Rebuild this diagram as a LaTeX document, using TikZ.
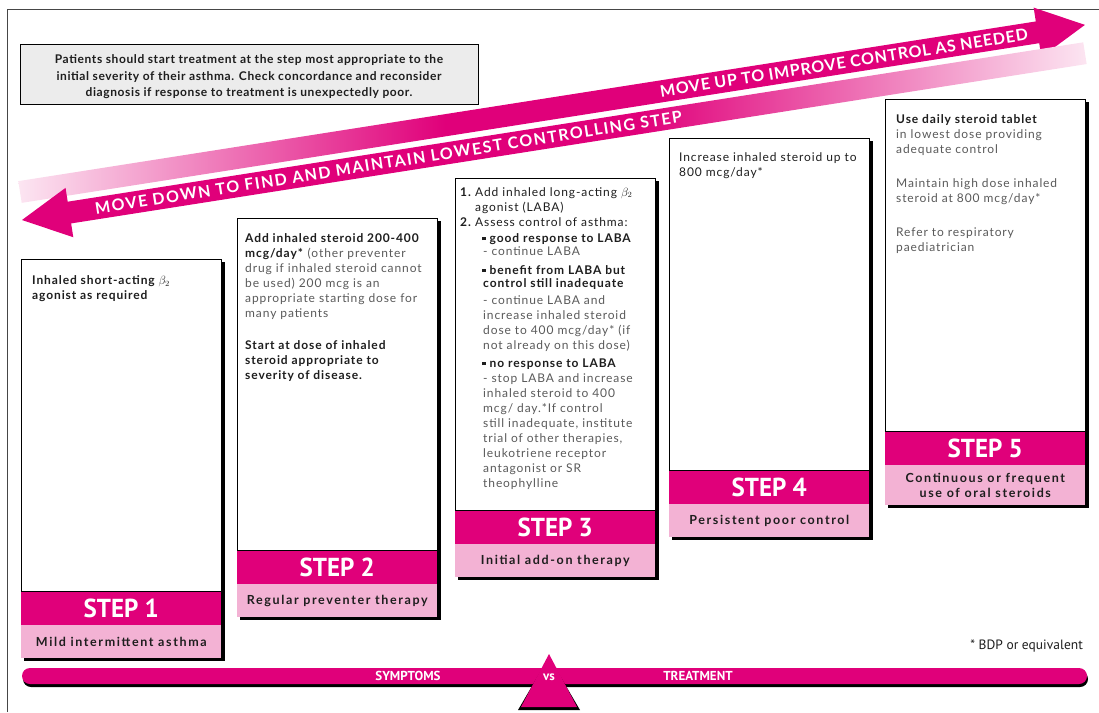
\documentclass[tikz,border=0pt]{standalone}
\usepackage{fontspec}
\setmainfont{Lato}[LetterSpace=7.5]
\newfontfamily\stepfont{PT Sans}[FakeStretch=0.96]
\newfontfamily\barfont{PT Sans}
\usepackage{tikz}
\usetikzlibrary{positioning, backgrounds}

\definecolor{stepmag}{RGB}{224,0,122}
\definecolor{steppink}{RGB}{243,178,212}
\definecolor{infogray}{RGB}{236,236,236}
\definecolor{textdark}{RGB}{30,30,30}
\definecolor{textgray}{RGB}{90,90,90}
\definecolor{framegray}{RGB}{70,70,70}
\colorlet{fadepink}{stepmag!10}

% fading bands of the two long arrows
\pgfdeclarehorizontalshading{upfade}{100bp}{color(0bp)=(fadepink); color(25bp)=(fadepink); color(45bp)=(stepmag); color(100bp)=(stepmag)}
\pgfdeclarehorizontalshading{downfade}{100bp}{color(0bp)=(stepmag); color(54bp)=(stepmag); color(75bp)=(fadepink); color(100bp)=(fadepink)}

\newcommand{\softtxt}[1]{\textcolor{textgray}{#1}}
\newcommand{\sqbullet}{\rule[2pt]{3.5pt}{3.5pt}\hspace{4pt}}

\tikzset{
  stepbody/.style={draw=black, line width=0.6pt, fill=white, minimum width=200pt,
    minimum height=332pt, inner sep=0pt, anchor=north west},
  stepband/.style={fill=stepmag, minimum width=200pt, minimum height=33pt, inner sep=0pt,
    text=white, font=\stepfont\bfseries\fontsize{26}{26}\selectfont},
  steplabel/.style={fill=steppink, minimum width=200pt, minimum height=33pt, inner sep=0pt,
    text=textdark, align=center,
    font=\bfseries\fontsize{12.5}{15}\selectfont\addfontfeature{LetterSpace=13}},
  steptext/.style={anchor=north west, inner sep=0pt, align=left, text=textdark,
    font=\fontsize{12}{15}\selectfont, execute at begin node=\strut},
  colshadow/.style={fill=black},
  bandtext/.style={text=white, inner sep=0pt, transform shape,
    font=\bfseries\fontsize{16}{16}\selectfont},
  bartext/.style={text=white, inner sep=0pt, font=\barfont\bfseries\fontsize{13}{13}\selectfont},
}

\begin{document}
\begin{tikzpicture}[x=1pt, y=-1pt]
  \useasboundingbox (0,0) rectangle (1099,712);
  \draw[framegray, line width=0.8pt] (7,712) -- (7,9) -- (1099,9);

  % note box
  \node[draw=black, line width=0.6pt, fill=infogray, minimum width=458pt, minimum height=60pt] (info) at (249,74) {};
  \node[align=center, text=textdark, inner sep=0pt,
        font=\bfseries\fontsize{12}{16.5}\selectfont\addfontfeature{LetterSpace=5}] (infotext)
    at ([shift={(0,3)}]info.center)
    {Patients should start treatment at the step most appropriate to the\\
     initial severity of their asthma. Check concordance and reconsider\\
     diagnosis if response to treatment is unexpectedly poor.};

  % long arrows
  \begin{scope}[shift={(20,192)}, rotate=8.92]
    \shade[shading=upfade] (0,-11) -- (1030,-11) -- (1030,-25) -- (1078,0) -- (1030,25)
      -- (1030,11) -- (0,11) -- cycle;
    \node[bandtext] (uptext) at (834,0) {\addfontfeature{LetterSpace=5}MOVE UP TO IMPROVE CONTROL AS NEEDED};
  \end{scope}
  \begin{scope}[shift={(22,220)}, rotate=8.92]
    \shade[shading=downfade] (0,0) -- (48,-25) -- (48,-11) -- (1076,-11) -- (1076,11)
      -- (48,11) -- (48,25) -- cycle;
    \node[bandtext] (downtext) at (371,0) {\addfontfeature{LetterSpace=9.5}MOVE DOWN TO FIND AND MAINTAIN LOWEST CONTROLLING STEP};
  \end{scope}

  % step 1
  \node[stepbody] (s1) at (21,259) {};
  \node[stepband, below=0pt of s1] (s1b) {STEP 1};
  \node[steplabel, below=0pt of s1b] (s1l) {Mild intermittent asthma};
  \node[steptext] (t1) at (32,275.5) {\textbf{Inhaled short-acting $\beta_2$}\\ \textbf{agonist as required}};

  % step 2
  \node[stepbody] (s2) at (237,218) {};
  \node[stepband, below=0pt of s2] (s2b) {STEP 2};
  \node[steplabel, below=0pt of s2b] (s2l) {Regular preventer therapy};
  \node[steptext] (t2) at (245,233.5) {\textbf{Add inhaled steroid 200-400}\\
    \textbf{mcg/day*} \softtxt{(other preventer}\\
    \softtxt{drug if inhaled steroid cannot}\\
    \softtxt{be used) 200 mcg is an}\\
    \softtxt{appropriate starting dose for}\\
    \softtxt{many patients}\\[17pt]
    \textbf{Start at dose of inhaled}\\
    \textbf{steroid appropriate to}\\
    \textbf{severity of disease.}};

  % step 3
  \node[stepbody] (s3) at (455,178) {};
  \node[stepband, below=0pt of s3] (s3b) {STEP 3};
  \node[steplabel, below=0pt of s3b] (s3l) {Initial add-on therapy};
  \node[steptext] (t3) at (460,187)
    {\makebox[15pt][l]{\textbf{1.}}Add inhaled long-acting $\beta_2$\\
     \hspace*{15pt}agonist (LABA)\\
     \makebox[15pt][l]{\textbf{2.}}Assess control of asthma:\\[1pt]
     \hspace*{22pt}\sqbullet\textbf{good response to LABA}\\[-2pt]
     \hspace*{23pt}\softtxt{- continue LABA}\\[4pt]
     \hspace*{22pt}\sqbullet\textbf{benefit from LABA but}\\[-2pt]
     \hspace*{23pt}\textbf{control still inadequate}\\[2pt]
     \hspace*{23pt}\softtxt{- continue LABA and}\\
     \hspace*{23pt}\softtxt{increase inhaled steroid}\\
     \hspace*{23pt}\softtxt{dose to 400 mcg/day* (if}\\
     \hspace*{23pt}\softtxt{not already on this dose)}\\[3pt]
     \hspace*{22pt}\sqbullet\textbf{no response to LABA}\\
     \hspace*{23pt}\softtxt{- stop LABA and increase}\\
     \hspace*{23pt}\softtxt{inhaled steroid to 400}\\
     \hspace*{23pt}\softtxt{mcg/ day.*If control}\\
     \hspace*{23pt}\softtxt{still inadequate, institute}\\
     \hspace*{23pt}\softtxt{trial of other therapies,}\\
     \hspace*{23pt}\softtxt{leukotriene receptor}\\
     \hspace*{23pt}\softtxt{antagonist or SR}\\
     \hspace*{23pt}\softtxt{theophylline}};

  % step 4
  \node[stepbody] (s4) at (669,138) {};
  \node[stepband, below=0pt of s4] (s4b) {STEP 4};
  \node[steplabel, below=0pt of s4b] (s4l) {Persistent poor control};
  \node[steptext] (t4) at (679,152.5) {Increase inhaled steroid up to\\ 800 mcg/day*};

  % step 5
  \node[stepbody] (s5) at (885,99) {};
  \node[stepband, below=0pt of s5] (s5b) {STEP 5};
  \node[steplabel, minimum height=40pt, below=0pt of s5b] (s5l) {Continuous or frequent\\ use of oral steroids};
  \node[steptext] (t5) at (896,114.5) {\textbf{Use daily steroid tablet}\\
    \softtxt{in lowest dose providing}\\
    \softtxt{adequate control}\\[19pt]
    \softtxt{Maintain high dose inhaled}\\
    \softtxt{steroid at 800 mcg/day*}\\[19pt]
    \softtxt{Refer to respiratory}\\
    \softtxt{paediatrician}};

  % column shadows
  \begin{scope}[on background layer]
    \fill[colshadow] ([shift={(3,3)}]s1.north west) rectangle ([shift={(3,3)}]s1l.south east);
    \fill[colshadow] ([shift={(3,3)}]s2.north west) rectangle ([shift={(3,3)}]s2l.south east);
    \fill[colshadow] ([shift={(3,3)}]s3.north west) rectangle ([shift={(3,3)}]s3l.south east);
    \fill[colshadow] ([shift={(3,3)}]s4.north west) rectangle ([shift={(3,3)}]s4l.south east);
    \fill[colshadow] ([shift={(3,3)}]s5.north west) rectangle ([shift={(3,3)}]s5l.south east);
  \end{scope}

  \node[anchor=east, inner sep=0pt, text=textdark, font=\barfont\fontsize{13.5}{13.5}\selectfont] (bdp)
    at (1083,646) {* BDP or equivalent};

  % balance bar
  \fill[colshadow, rounded corners=8pt] (23,671) rectangle (1088,687);
  \fill[stepmag, rounded corners=8pt] (22,668) rectangle (1087,684);
  \fill[colshadow] (518,710) -- (549,657) -- (580,710) -- cycle;
  \fill[stepmag] (521,707) -- (549,654) -- (577,707) -- cycle;
  \node[bartext] (symptoms) at (408,676) {SYMPTOMS};
  \node[bartext] (vs) at (549,677) {vs};
  \node[bartext] (treatment) at (698,676) {TREATMENT};
\end{tikzpicture}
\end{document}
